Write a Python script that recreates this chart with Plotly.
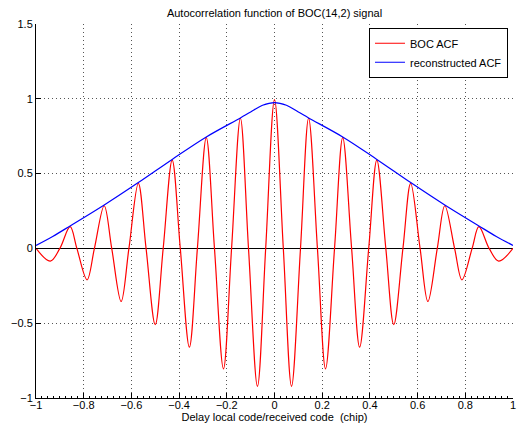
import plotly.graph_objects as go

# Key points (peaks, troughs, zero crossings) of the BOC ACF
boc_x = [-1.0, -0.94, -0.900, -0.857, -0.8286, -0.786, -0.7551, -0.714, -0.6825, -0.643,
         -0.6104, -0.571, -0.5385, -0.5, -0.4667, -0.429, -0.395, -0.357, -0.3233, -0.286,
         -0.2517, -0.214, -0.180, -0.143, -0.109, -0.0714, -0.037, 0.0,
         0.037, 0.0714, 0.109, 0.143, 0.180, 0.214, 0.2517, 0.286, 0.3233, 0.357,
         0.395, 0.429, 0.4667, 0.5, 0.5385, 0.571, 0.6104, 0.643, 0.6825, 0.714,
         0.7551, 0.786, 0.8286, 0.857, 0.900, 0.94, 1.0]
boc_y = [0.0, -0.085, 0.0, 0.145, 0.0, -0.21, 0.0, 0.285, 0.0, -0.355,
         0.0, 0.435, 0.0, -0.51, 0.0, 0.59, 0.0, -0.66, 0.0, 0.74,
         0.0, -0.805, 0.0, 0.87, 0.0, -0.922, 0.0, 0.995,
         0.0, -0.922, 0.0, 0.87, 0.0, -0.805, 0.0, 0.74, 0.0, -0.66,
         0.0, 0.59, 0.0, -0.51, 0.0, 0.435, 0.0, -0.355, 0.0, 0.285,
         0.0, -0.21, 0.0, 0.145, 0.0, -0.085, 0.0]

# Reconstructed ACF (envelope)
rec_x = [-1.0, -0.93, -0.857, -0.714, -0.571, -0.429, -0.286, -0.143, -0.1, -0.05, 0.0,
         0.05, 0.1, 0.143, 0.286, 0.429, 0.571, 0.714, 0.857, 0.93, 1.0]
rec_y = [0.02, 0.08, 0.15, 0.29, 0.44, 0.595, 0.745, 0.872, 0.912, 0.957, 0.975,
         0.957, 0.912, 0.872, 0.745, 0.595, 0.44, 0.29, 0.15, 0.08, 0.02]

x_ticks = [-1, -0.8, -0.6, -0.4, -0.2, 0, 0.2, 0.4, 0.6, 0.8, 1]
y_ticks = [-1, -0.5, 0, 0.5, 1, 1.5]

font_family = "Liberation Sans, Arial, Helvetica, sans-serif"

fig = go.Figure()
fig.add_trace(go.Scatter(x=boc_x, y=boc_y, mode="lines", name="BOC ACF",
                         line=dict(color="#ff0000", width=1.2, shape="spline", smoothing=1.0)))
fig.add_trace(go.Scatter(x=rec_x, y=rec_y, mode="lines", name="reconstructed ACF",
                         line=dict(color="#0000ff", width=1.2, shape="spline", smoothing=1.0)))

# The page body adds an 8px offset, so the figure is 8px smaller than the window
fig.update_layout(
    width=519, height=422,
    margin=dict(l=28, r=14, t=16, b=32, autoexpand=False),
    paper_bgcolor="white", plot_bgcolor="white",
    font=dict(family=font_family, size=11, color="black"),
    title=dict(text="Autocorrelation function of BOC(14,2) signal",
               x=0.5, xref="paper", y=1 - 5 / 422, yref="container",
               xanchor="center", yanchor="middle",
               font=dict(size=11, family=font_family, color="black")),
    showlegend=True,
    legend=dict(x=0.9895, y=0.99, xanchor="right", yanchor="top",
                bgcolor="white", bordercolor="black", borderwidth=1,
                itemwidth=30, font=dict(size=11, family=font_family), tracegroupgap=0),
)
grid_dash = "1px,3px"
fig.update_xaxes(
    range=[-1, 1], tickvals=x_ticks, ticks="inside", ticklen=5, tickcolor="black",
    showline=True, linecolor="black", linewidth=1, mirror=False, automargin=False,
    showgrid=True, gridcolor="#555555", griddash=grid_dash, gridwidth=1,
    zeroline=False, ticklabelstandoff=-3,
    minor=dict(dtick=0.025, ticks="inside", ticklen=2, tickcolor="black", showgrid=False),
    title=dict(text="Delay local code/received code  (chip)", standoff=0,
               font=dict(size=11, family=font_family)),
    tickfont=dict(size=11, family=font_family),
)
fig.update_yaxes(
    range=[-1, 1.5], tickvals=y_ticks, ticks="inside", ticklen=5, tickcolor="black",
    showline=True, linecolor="black", linewidth=1, mirror=False, automargin=False,
    showgrid=True, gridcolor="#555555", griddash=grid_dash, gridwidth=1,
    zeroline=True, zerolinecolor="black", zerolinewidth=1.3,
    tickfont=dict(size=11, family=font_family),
)

fig.write_html("out.html")
